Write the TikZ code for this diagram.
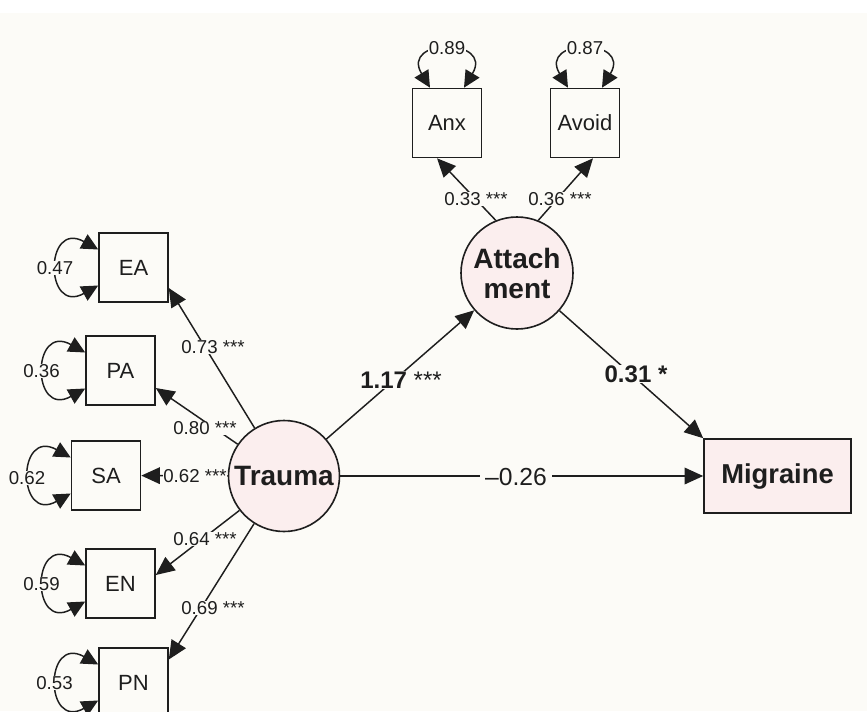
\documentclass[tikz,border=0pt]{standalone}
\usepackage{fontspec}
\setmainfont{Liberation Sans}
\usetikzlibrary{arrows.meta,calc}
\definecolor{bgc}{HTML}{FCFBF7}
\definecolor{pinkc}{HTML}{FBEEEE}
\definecolor{inkc}{HTML}{1E1E1E}
\begin{document}
\begin{tikzpicture}[x=0.75pt,y=-0.75pt,
  obs/.style={draw=inkc, line width=1.2pt, fill=bgc, minimum width=51.75pt, minimum height=51.75pt, inner sep=0pt, font=\fontsize{16.5}{18}\selectfont, text=inkc},
  lat/.style={circle, draw=inkc, line width=1.2pt, fill=pinkc, inner sep=0pt, font=\fontsize{21}{22.5}\selectfont\bfseries, text=inkc, align=center},
  arr/.style={-{Triangle[length=14pt,width=12.5pt]}, draw=inkc, line width=1.1pt},
  var/.style={{Triangle[length=12.5pt,width=12pt]}-{Triangle[length=12.5pt,width=12pt]}, draw=inkc, line width=1.1pt},
  lab/.style={fill=bgc, inner sep=0.5pt, font=\fontsize{14}{15}\selectfont, text=inkc},
  biglab/.style={fill=bgc, inner sep=0.5pt, font=\fontsize{18}{20}\selectfont, text=inkc}
]
\useasboundingbox (0,0) rectangle (867,711);
\clip (0,0) rectangle (867,711);
\fill[bgc] (0,0) rectangle (867,711);
\fill[white] (0,0) rectangle (867,13);

% observed indicators
\node[obs] (EA) at (133.5,267.5) {EA};
\node[obs] (PA) at (120.5,370.5) {PA};
\node[obs] (SA) at (106,475.5) {SA};
\node[obs] (EN) at (120.5,583.5) {EN};
\node[obs] (PN) at (133.5,682.5) {PN};
\node[obs] (Anx) at (447,123) {Anx};
\node[obs] (Avoid) at (585,123) {Avoid};

% latent variables and outcome
\node[lat, minimum size=83.25pt] (T) at (284,476) {Trauma};
\node[lat, minimum size=84pt] (Att) at (517,273) {Attach\\ment};
\node[obs, fill=pinkc, minimum width=110.25pt, minimum height=55.5pt, font=\fontsize{20.5}{22}\selectfont\bfseries] (Mig) at (777.5,476) {Migraine};

% paths
\draw[arr] (T) -- ($(EA.east)+(0,20.5)$);
\draw[arr] (T) -- ($(PA.east)+(0,17.5)$);
\draw[arr] (T) -- (SA);
\draw[arr] (T) -- ($(EN.east)+(0,-8.5)$);
\draw[arr] (T) -- ($(PN.east)+(0,-23)$);
\draw[arr] (T) -- (Att);
\draw[arr] (T) -- (Mig);
\draw[arr] (Att) -- (Mig.north west);
\draw[arr] (Att.112) -- ($(Anx.south)+(-10,0)$);
\draw[arr] (Att.68) -- ($(Avoid.south)+(8,0)$);

% variances
\foreach \b in {EA,PA,SA,EN,PN}{
  \draw[var] ($(\b.west)+(0,-18)$) .. controls +(-54,-30) and +(-54,30) .. ($(\b.west)+(0,18)$);
}
\foreach \b in {Anx,Avoid}{
  \draw[var] ($(\b.north)+(-17,0)$) .. controls +(-30,-50) and +(30,-50) .. ($(\b.north)+(17,0)$);
}

% variance labels
\node[lab] (vEA) at (55,268) {0.47};
\node[lab] (vPA) at (41.5,371) {0.36};
\node[lab] (vSA) at (27,478) {0.62};
\node[lab] (vEN) at (41.5,584) {0.59};
\node[lab] (vPN) at (54.5,683) {0.53};
\node[lab] (vAnx) at (447,48) {0.89};
\node[lab] (vAvoid) at (585,48) {0.87};

% loading labels
\node[lab] (lEA) at (213,347) {0.73 ***};
\node[lab] (lPA) at (205,428) {0.80 ***};
\node[lab] (lSA) at (195,476) {0.62 ***};
\node[lab] (lEN) at (205,539) {0.64 ***};
\node[lab] (lPN) at (213,608) {0.69 ***};
\node[lab] (lAnx) at (476,199) {0.33 ***};
\node[lab] (lAvoid) at (560,199) {0.36 ***};

% structural path labels
\node[biglab] (lTA) at (401,380) {\textbf{1.17} ***};
\node[biglab] (lAM) at (636,374) {\textbf{0.31 *}};
\node[biglab, font=\fontsize{18.5}{20}\selectfont, inner xsep=4pt] (lTM) at (516,477) {–0.26};
\end{tikzpicture}
\end{document}
